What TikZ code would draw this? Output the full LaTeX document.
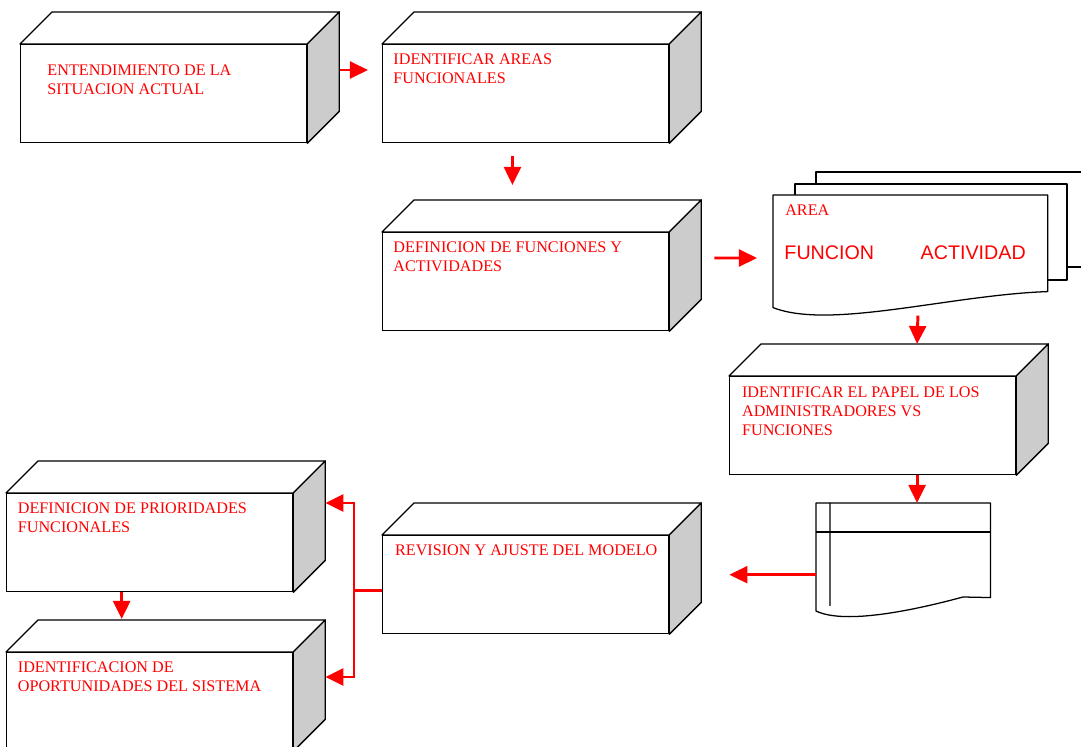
\documentclass[tikz,border=0pt]{standalone}
\usepackage{fontspec}
\setmainfont{Liberation Serif}
\newfontfamily\hojasans{Liberation Sans}
\usetikzlibrary{arrows.meta, positioning, calc}

\definecolor{sidegray}{RGB}{204,204,204}

% top and side faces of a box whose front face is node #1
\newcommand{\prisma}[1]{%
  \draw[cubeln] (#1.north west) -- ++(0.8cm,0.8cm)
    -- ($(#1.north east)+(0.8cm,0.8cm)$) -- (#1.north east) -- cycle;
  \draw[cubeln, fill=sidegray] (#1.north east) -- ++(0.8cm,0.8cm)
    -- ($(#1.south east)+(0.8cm,0.8cm)$) -- (#1.south east) -- cycle;
}

\begin{document}
\begin{tikzpicture}[
  x=0.025cm, y=-0.025cm,
  cara/.style   = {rectangle, draw, fill=white, line width=0.9pt,
                   minimum width=7.15cm, minimum height=2.45cm,
                   anchor=north west, inner sep=0pt},
  cubeln/.style = {draw, fill=white, line width=0.9pt, line join=round},
  txt/.style    = {font=\fontsize{11.5}{13.4}\selectfont, text=red,
                   align=left, inner sep=0pt},
  sans/.style   = {font=\hojasans\fontsize{14}{16}\selectfont, text=red,
                   inner sep=0pt},
  hoja/.style   = {draw, fill=white, line width=0.9pt, line join=round},
  arr/.style    = {-{Triangle[length=0.45cm, width=0.42cm]}, red,
                   line width=2.1pt}
]
\useasboundingbox (0,0) rectangle (1081,747);

% ===================== BOXES =====================
\node[cara] (entend)   at (20,44)   {};
\node[cara] (areas)    at (382,44)  {};
\node[cara] (funcs)    at (382,232) {};
\node[cara] (papel)    at (729,376) {};
\node[cara] (revision) at (382,535) {};
\node[cara] (prior)    at (6,493)   {};
\node[cara] (oport)    at (6,652)   {};
\foreach \c in {entend,areas,funcs,papel,revision,prior,oport} {\prisma{\c}}

\node[txt, below right=0.52cm and 0.68cm of entend.north west] (tentend)
  {ENTENDIMIENTO DE LA\\SITUACION ACTUAL};
\node[txt, below right=0.24cm and 0.28cm of areas.north west] (tareas)
  {IDENTIFICAR AREAS\\FUNCIONALES};
\node[txt, below right=0.24cm and 0.28cm of funcs.north west] (tfuncs)
  {DEFINICION DE FUNCIONES Y\\ACTIVIDADES};
\node[txt, below right=0.27cm and 0.32cm of papel.north west] (tpapel)
  {IDENTIFICAR EL PAPEL DE LOS\\ADMINISTRADORES VS\\FUNCIONES};
\node[txt, below right=0.25cm and 0.32cm of revision.north west] (trevision)
  {REVISION Y AJUSTE DEL MODELO};
\node[txt, below right=0.23cm and 0.29cm of prior.north west] (tprior)
  {DEFINICION DE PRIORIDADES\\FUNCIONALES};
\node[txt, below right=0.25cm and 0.29cm of oport.north west] (toport)
  {IDENTIFICACION DE\\OPORTUNIDADES DEL SISTEMA};

% ===================== MULTI-DOCUMENT =====================
\draw[hoja] (816,172) rectangle (1100,267);
\draw[hoja] (795,184) rectangle (1067,280);
\node[minimum width=6.85cm, minimum height=2.4cm, anchor=north west,
      inner sep=0pt] (hoja) at (773,195) {};
\draw[hoja] (hoja.north west) -- (hoja.north east) -- (hoja.south east)
  .. controls (950,295) and (830,330) .. ([yshift=-0.4cm]hoja.south west)
  -- cycle;
\node[txt, below right=0.25cm and 0.3cm of hoja.north west] (area) {AREA};
\node[sans, below right=1.25cm and 0.28cm of hoja.north west] (funcion) {FUNCION};
\node[sans, right=1.15cm of funcion] (activ) {ACTIVIDAD};

% ===================== STORED DATA =====================
\node[minimum width=4.35cm, minimum height=2.35cm, anchor=north west,
      inner sep=0pt] (almacen) at (816,503) {};
\draw[hoja] (almacen.north west) -- (almacen.north east) -- (almacen.south east)
  -- (963,597) .. controls (915,610) and (845,625) .. (816,611) -- cycle;
\draw[line width=0.9pt] ([yshift=-0.725cm]almacen.north west)
  -- ([yshift=-0.725cm]almacen.north east);
\draw[line width=0.9pt] ([xshift=0.35cm]almacen.north west) -- (830,606);

% ===================== ARROWS =====================
\draw[arr] ([shift={(0.825cm,-0.65cm)}]entend.north east)
  -- ([shift={(-0.35cm,-0.65cm)}]areas.north west);
\draw[arr] ([shift={(-0.33cm,-0.33cm)}]areas.south)
  -- ([shift={(-0.33cm,1.175cm)}]funcs.north);
\draw[arr] ([shift={(1.125cm,-0.65cm)}]funcs.north east)
  -- ([shift={(-0.4cm,-1.575cm)}]hoja.north west);
\draw[arr] ([shift={(0.19cm,-0.6cm)}]hoja.south)
  -- ([shift={(1.11cm,0.8cm)}]papel.north);
\draw[arr] ([xshift=1.11cm]papel.south)
  -- ([xshift=1.11cm]papel.south |- almacen.north);
\draw[arr] ([yshift=-0.61cm]almacen.west)
  -- ([xshift=1.5cm,yshift=-0.61cm]almacen.west -| revision.east);

% fork to the two boxes on the left
\draw[arr] ([yshift=-0.15cm]revision.west) -- ++(-0.7cm,0)
  |- ([shift={(0.8cm,-0.25cm)}]prior.north east);
\draw[arr] ([yshift=-0.15cm]revision.west) -- ++(-0.7cm,0)
  |- ([shift={(0.8cm,-0.625cm)}]oport.north east);
\draw[arr] ([xshift=-0.7cm]prior.south)
  -- ([shift={(-0.7cm,0.825cm)}]oport.north);

\end{tikzpicture}
\end{document}
